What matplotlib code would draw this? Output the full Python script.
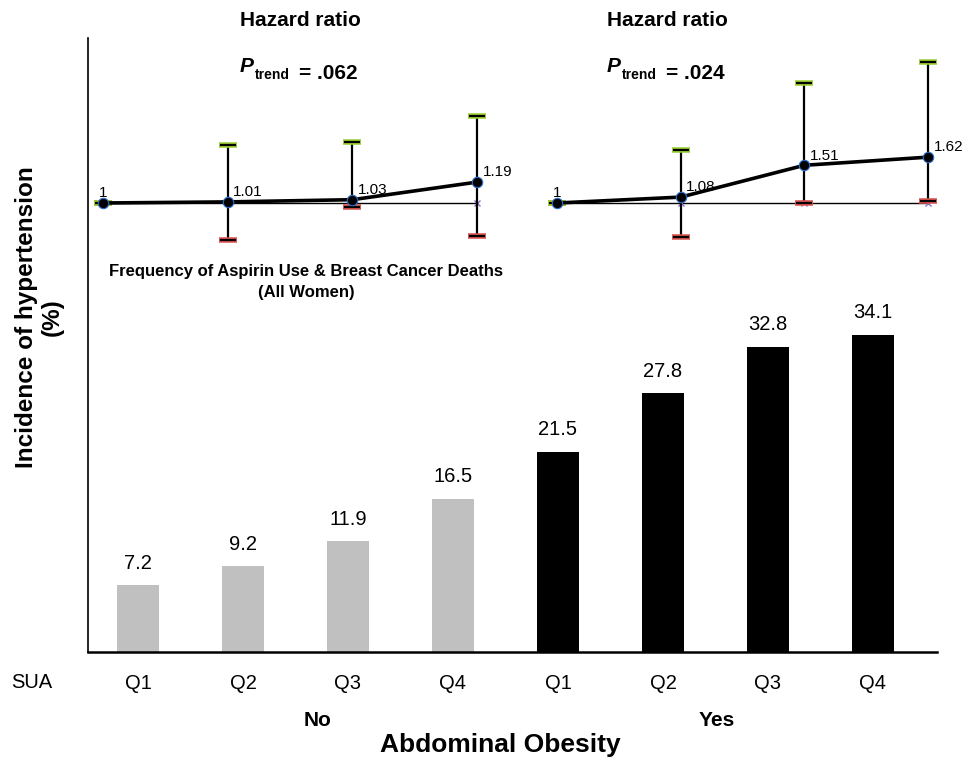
import numpy as np
import matplotlib.pyplot as plt

plt.rcParams['font.family'] = ['Liberation Sans', 'DejaVu Sans']

# bar data
groups = ['No', 'Yes']
quartiles = ['Q1', 'Q2', 'Q3', 'Q4']
incidence = [7.2, 9.2, 11.9, 16.5, 21.5, 27.8, 32.8, 34.1]
bar_colors = ['#c0c0c0'] * 4 + ['#000000'] * 4

# hazard ratios (inset panels)
hr_no = [1, 1.01, 1.03, 1.19]
hr_no_low = [1, 0.66, 0.96, 0.70]
hr_no_high = [1, 1.53, 1.55, 1.79]
p_no = '.062'

hr_yes = [1, 1.08, 1.51, 1.62]
hr_yes_low = [1, 0.54, 1.0, 1.03]
hr_yes_high = [1, 1.72, 2.62, 2.90]
p_yes = '.024'

W, H = 968, 760
fig = plt.figure(figsize=(W / 100, H / 100), dpi=100)


def fx(px):
    return px / W


def fy(py):
    return 1 - py / H


# main bar axes
ax = fig.add_axes([fx(88), fy(652), fx(937) - fx(88), fy(38) - fy(652)])
x = np.arange(len(incidence))
ax.bar(x, incidence, width=0.4, color=bar_colors)
for xi, v in zip(x, incidence):
    ax.annotate(f'{v}', (xi, v), xytext=(0, 9), textcoords='offset points',
                ha='center', va='bottom', fontsize=14.5)
ax.set_xlim(-0.476, 7.61)
ax.set_ylim(0, 66)
ax.set_yticks([])
ax.set_xticks(x)
ax.set_xticklabels(quartiles * 2, fontsize=14.5)
ax.tick_params(axis='x', length=0, pad=16)
ax.spines['top'].set_visible(False)
ax.spines['right'].set_visible(False)
ax.spines['left'].set_linewidth(1.2)
ax.spines['bottom'].set_linewidth(1.8)

fig.text(fx(32), fy(683), 'SUA', ha='center', va='center', fontsize=14.5)
fig.text(fx(318), fy(720), groups[0], ha='center', va='center', fontsize=15, weight='bold')
fig.text(fx(717), fy(720), groups[1], ha='center', va='center', fontsize=15, weight='bold')
fig.text(fx(500), fy(745), 'Abdominal Obesity', ha='center', va='center', fontsize=19, weight='bold')
fig.text(fx(39), fy(317), 'Incidence of hypertension\n(%)', ha='center', va='center',
         rotation=90, fontsize=17.5, weight='bold', linespacing=1.15)

fig.text(fx(306), fy(271), 'Frequency of Aspirin Use & Breast Cancer Deaths',
         ha='center', va='center', fontsize=12, weight='bold')
fig.text(fx(306), fy(292), '(All Women)', ha='center', va='center', fontsize=12, weight='bold')


def hr_panel(rect, ylim, hr, low, high, ptxt, cx):
    a = fig.add_axes(rect)
    a.axis('off')
    a.set_xlim(0, 3)
    a.set_ylim(*ylim)
    xs = np.arange(len(hr))
    a.plot([0, 3], [1, 1], color='black', lw=1, clip_on=False, zorder=1)
    a.plot(xs[1:], [1] * 3, 'x', color='#8a6fc0', ms=5, mew=1, clip_on=False, zorder=2)
    a.vlines(xs, low, high, color='black', lw=1.6, clip_on=False, zorder=2)
    a.plot(xs, low, '_', color='#d9534f', ms=13, mew=4, clip_on=False, zorder=3)
    a.plot(xs, low, '_', color='black', ms=11, mew=1.6, clip_on=False, zorder=3)
    a.plot(xs, high, '_', color='#9acd32', ms=13, mew=4, clip_on=False, zorder=3)
    a.plot(xs, high, '_', color='black', ms=11, mew=1.6, clip_on=False, zorder=3)
    a.plot(xs, hr, '-', color='black', lw=2.6, clip_on=False, zorder=4)
    a.plot(xs, hr, 'o', color='black', mec='#2a6fd0', mew=0.8, ms=7.5, clip_on=False, zorder=5)
    for xi, v in zip(xs, hr):
        if xi == 0:
            a.annotate('1', (xi, v), xytext=(0, 2), textcoords='offset points',
                       ha='center', va='bottom', fontsize=11, zorder=6)
        else:
            a.annotate(f'{v}', (xi, v), xytext=(4, 7), textcoords='offset points',
                       ha='left', va='center', fontsize=11, zorder=6)
    fig.text(fx(cx), fy(20), 'Hazard ratio', ha='center', va='center', fontsize=15, weight='bold')
    t1 = fig.text(fx(cx - 60), fy(72), 'P', ha='left', va='baseline', fontsize=15,
                  weight='bold', style='italic')
    t2 = ax.annotate('trend', xy=(1, 0), xycoords=t1, xytext=(1, -2), textcoords='offset points',
                     ha='left', va='baseline', fontsize=10, weight='bold', annotation_clip=False)
    ax.annotate(f'= {ptxt}', xy=(1, 0), xycoords=t2, xytext=(6, 2), textcoords='offset points',
                ha='left', va='baseline', fontsize=15, weight='bold', annotation_clip=False)
    return a


hr_panel([fx(103), fy(260), fx(477) - fx(103), fy(100) - fy(260)], (0.482, 1.936),
         hr_no, hr_no_low, hr_no_high, p_no, 300)
hr_panel([fx(557), fy(260), fx(928) - fx(557), fy(50) - fy(260)], (0.23, 3.068),
         hr_yes, hr_yes_low, hr_yes_high, p_yes, 667)

fig.savefig('out.png', dpi=100)
